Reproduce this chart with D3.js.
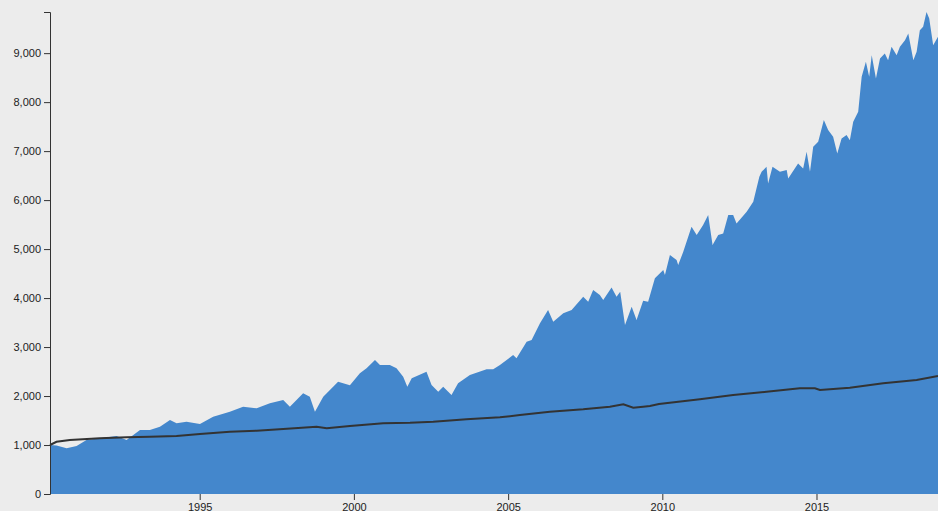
<!DOCTYPE html>
<html>
<head>
<meta charset="utf-8">
<script src="https://cdn.jsdelivr.net/npm/d3@7"></script>
<style>
  html, body { margin: 0; padding: 0; background: #ececec; overflow: hidden; }
  .axis text { font: 11px Arial, "Liberation Sans", sans-serif; fill: #222; }
  .axis path, .axis line { stroke: #333; }
</style>
</head>
<body>
<div id="chart"></div>
<script>
// growth of 1000 - fund (area)
const fundDates = [
  "1990-02-23","1990-05-11","1990-09-08",
  "1991-01-04","1991-05-01","1991-10-06",
  "1992-04-21","1992-08-18",
  "1993-01-24","1993-05-21","1993-09-17",
  "1994-01-14","1994-04-02","1994-07-29",
  "1995-01-04","1995-06-09","1995-12-24",
  "1996-05-29","1996-11-06",
  "1997-04-11","1997-09-16","1997-12-04",
  "1998-05-10","1998-07-28","1998-09-27",
  "1999-01-03","1999-06-28","1999-11-15",
  "2000-03-12","2000-05-30","2000-09-07","2000-11-05",
  "2001-03-02","2001-05-20","2001-08-07","2001-09-25","2001-11-16",
  "2002-05-10","2002-07-09","2002-09-26","2002-11-24",
  "2003-03-02","2003-05-19","2003-10-06",
  "2004-04-21","2004-07-08","2004-09-26",
  "2005-03-01","2005-04-10","2005-08-08","2005-10-06",
  "2006-01-13","2006-04-19","2006-06-19","2006-10-16",
  "2007-01-23","2007-06-09","2007-08-07","2007-10-05","2007-12-23",
  "2008-02-01","2008-05-10","2008-07-08","2008-08-20","2008-10-16",
  "2009-01-03","2009-03-02","2009-05-19","2009-07-17","2009-10-05",
  "2010-01-12","2010-02-01","2010-04-01","2010-06-19","2010-07-08","2010-09-06","2010-12-13",
  "2011-02-12","2011-04-29","2011-06-28","2011-08-19","2011-10-25","2011-12-23",
  "2012-02-21","2012-04-19","2012-05-29","2012-09-26","2012-12-13",
  "2013-02-23","2013-03-22","2013-05-19","2013-06-07","2013-07-29","2013-10-25",
  "2014-01-13","2014-01-31","2014-05-28","2014-07-27","2014-09-06","2014-10-16","2014-11-23",
  "2015-01-21","2015-03-29","2015-05-19","2015-07-17","2015-09-04","2015-10-25","2015-12-23",
  "2016-01-31","2016-03-11","2016-05-09","2016-06-19","2016-08-08","2016-09-16","2016-10-16","2016-12-05",
  "2017-01-22","2017-03-20","2017-04-28","2017-06-08","2017-08-07","2017-09-15","2017-11-14","2017-12-23",
  "2018-02-21","2018-04-01","2018-05-09","2018-06-17","2018-07-27","2018-08-28","2018-10-14","2018-12-10"
];
const fundValues = [
  1000, 990, 933,
  980, 1102, 1137,
  1184, 1102,
  1306, 1306, 1373,
  1510, 1443, 1476,
  1429, 1578, 1680,
  1782, 1749,
  1851, 1918, 1782,
  2055, 1986, 1680,
  1986, 2292, 2220,
  2463, 2565, 2735, 2633,
  2633, 2565, 2394, 2190, 2361,
  2496, 2224, 2088, 2190,
  2020, 2259, 2429,
  2545, 2545, 2633,
  2837, 2769, 3108, 3143,
  3484, 3755, 3516, 3688,
  3755, 4027, 3924, 4163, 4061,
  3959, 4218, 4027, 4129, 3449,
  3822, 3551, 3943, 3924, 4402,
  4571, 4469, 4878, 4776, 4673, 4945, 5455,
  5286, 5490, 5694, 5082, 5286, 5320,
  5694, 5694, 5524, 5761, 5965,
  6476, 6578, 6680, 6341, 6680, 6578,
  6612, 6443, 6749, 6647, 6986, 6578, 7088,
  7190, 7633, 7429, 7292, 6953, 7259, 7327,
  7224, 7598, 7802, 8516, 8822, 8516, 8959, 8484,
  8892, 8994, 8857, 9129, 8959, 9129, 9265, 9402,
  8857, 9027, 9469, 9537, 9840, 9708, 9163, 9333
];

// benchmark (line)
const benchDates = [
  "1990-02-23","1990-05-11","1990-10-16",
  "1991-10-06","1992-08-18","1993-05-21","1994-04-02",
  "1995-01-04","1995-12-24","1996-11-06","1997-09-16",
  "1998-10-16","1999-02-13","1999-11-15",
  "2000-12-13","2001-10-26","2002-07-29","2003-08-27",
  "2004-09-26","2005-05-20","2006-05-10","2007-06-09",
  "2008-04-20","2008-09-26",
  "2009-01-22","2009-05-19","2009-08-07","2009-11-22",
  "2011-03-22","2012-04-19","2013-05-19",
  "2014-06-18","2014-12-13","2015-02-11",
  "2016-01-31","2017-03-01","2018-04-01","2018-12-10"
];
const benchValues = [
  1000, 1067, 1102,
  1137, 1157, 1169, 1184,
  1224, 1271, 1292, 1327,
  1373, 1341, 1388,
  1443, 1455, 1476, 1524,
  1565, 1612, 1680, 1729,
  1782, 1831,
  1761, 1782, 1796, 1837,
  1933, 2020, 2088,
  2157, 2157, 2122,
  2169, 2259, 2327, 2408
];

const parseDate = d3.timeParse("%Y-%m-%d");

const fund = fundDates.map((d, i) => ({date: parseDate(d), value: fundValues[i]}));
const bench = benchDates.map((d, i) => ({date: parseDate(d), value: benchValues[i]}));

const width = 938, height = 511;
const margin = {top: 12, right: 0, bottom: 17, left: 50};
const innerW = width - margin.left - margin.right;
const innerH = height - margin.top - margin.bottom;

const svg = d3.select("#chart")
  .append("svg")
  .attr("width", width)
  .attr("height", height);

const g = svg.append("g")
  .attr("transform", `translate(${margin.left},${margin.top})`);

const x = d3.scaleTime()
  .domain(d3.extent(fund, d => d.date))
  .range([0, innerW]);

const y = d3.scaleLinear()
  .domain([0, d3.max(fund, d => d.value)])
  .range([innerH, 0]);

const area = d3.area()
  .x(d => x(d.date))
  .y0(innerH)
  .y1(d => y(d.value));

const line = d3.line()
  .x(d => x(d.date))
  .y(d => y(d.value));

g.append("path")
  .datum(fund)
  .attr("fill", "#4487cc")
  .attr("d", area);

g.append("path")
  .datum(bench)
  .attr("fill", "none")
  .attr("stroke", "#333")
  .attr("stroke-width", 2)
  .attr("d", line);

//axes
const xAxis = g.append("g")
  .attr("class", "axis")
  .attr("transform", `translate(0,${innerH})`)
  .call(d3.axisBottom(x).ticks(d3.timeYear.every(5)));
xAxis.select(".domain").remove();

g.append("g")
  .attr("class", "axis")
  .call(d3.axisLeft(y).ticks(10));
</script>
</body>
</html>
